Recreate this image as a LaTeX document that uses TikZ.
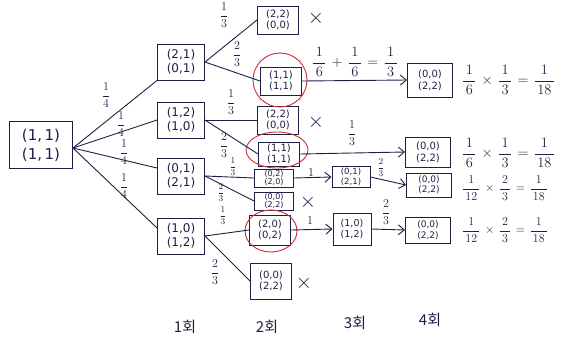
\documentclass[tikz,border=0pt]{standalone}
\usepackage{amsmath}
\usepackage{fontspec}
\newfontfamily\kr{Noto Sans CJK KR}
\newfontfamily\hand{DejaVu Sans}
\usetikzlibrary{arrows.meta}
\definecolor{ink}{RGB}{30,30,70}
\definecolor{redink}{RGB}{205,45,55}
\newcommand{\fr}[2]{\dfrac{#1}{#2}}
\newcommand{\wf}[2]{\dfrac{\,#1\,}{\,#2\,}}
\newcommand{\op}[1]{\mathbin{\hspace{2pt}#1\hspace{2pt}}}
\begin{document}
\begin{tikzpicture}[x=1pt,y=-1pt,
  box/.style={draw=ink, line width=1pt, align=center, text=ink, inner sep=0pt},
  bigbox/.style={box, minimum width=63pt, minimum height=47pt, font=\hand\fontsize{15}{19}\selectfont},
  midbox/.style={box, minimum width=47pt, minimum height=36pt, font=\hand\fontsize{12}{14}\selectfont},
  smbox/.style={box, minimum width=41pt, minimum height=28pt, font=\hand\fontsize{10}{11.5}\selectfont},
  tinybox/.style={box, minimum width=39pt, minimum height=18pt, font=\hand\fontsize{8}{8.5}\selectfont},
  l3box/.style={box, minimum width=38pt, minimum height=26pt, font=\hand\fontsize{9.5}{11}\selectfont},
  endbox/.style={box, minimum width=45pt, minimum height=30pt, font=\hand\fontsize{10}{12}\selectfont},
  edge/.style={draw=ink, line width=0.9pt},
  arr/.style={edge, -{Straight Barb[length=6pt,width=10pt]}},
  lab/.style={text=ink, font=\fontsize{13}{14}\selectfont, inner sep=0pt},
  slab/.style={text=ink, font=\fontsize{9}{10}\selectfont, inner sep=0pt},
  frm/.style={text=ink, font=\fontsize{14}{15}\selectfont, inner sep=0pt},
  xm/.style={text=ink, font=\fontsize{22}{22}\selectfont, inner sep=0pt},
  ring/.style={draw=redink, line width=0.9pt},
  kor/.style={text=ink, font=\kr\fontsize{15}{17}\selectfont, inner sep=0pt}]
\useasboundingbox (0,0) rectangle (576,357);

% nodes
\node[bigbox] (root) at (41,145) {(1,\,1)\\(1,\,1)};
\node[midbox] (a) at (181,62) {(2,1)\\(0,1)};
\node[midbox] (b) at (181,120) {(1,2)\\(1,0)};
\node[midbox] (c) at (181,176) {(0,1)\\(2,1)};
\node[midbox] (d) at (181,236) {(1,0)\\(1,2)};

\node[smbox] (a1) at (278,20) {(2,2)\\(0,0)};
\node[smbox] (a2) at (281,81) {(1,1)\\(1,1)};
\node[smbox] (b1) at (278,120) {(2,2)\\(0,0)};
\node[smbox, minimum height=24pt] (b2) at (279,154) {(1,1)\\(1,1)};
\node[tinybox] (c1) at (274,178) {(0,2)\\(2,0)};
\node[tinybox] (c2) at (274,201) {(0,0)\\(2,2)};
\node[smbox, minimum height=30pt] (d1) at (270,230) {(2,0)\\(0,2)};
\node[smbox, minimum height=36pt] (d2) at (271,281) {(0,0)\\(2,2)};

\node[l3box, minimum height=21pt, font=\hand\fontsize{8.5}{9.5}\selectfont] (c3) at (351,177) {(0,1)\\(2,1)};
\node[l3box, minimum height=32pt] (d3) at (352,229) {(1,0)\\(1,2)};

\node[endbox, minimum height=34pt] (a4) at (430,80) {(0,0)\\(2,2)};
\node[endbox] (b4) at (428,152) {(0,0)\\(2,2)};
\node[endbox, minimum height=24pt, font=\hand\fontsize{9}{10}\selectfont] (c4) at (429,185) {(0,0)\\(2,2)};
\node[endbox, minimum height=26pt, font=\hand\fontsize{9}{10.5}\selectfont] (d4) at (428,230) {(0,0)\\(2,2)};

% red rings
\draw[ring] (280,80) ellipse [x radius=27pt, y radius=27pt];
\draw[ring] (277,150) ellipse [x radius=31pt, y radius=18pt];
\draw[ring] (271,231) ellipse [x radius=26pt, y radius=21pt];

% edges from root
\coordinate (r0) at ([yshift=-3pt]root.east);
\draw[edge] (r0) -- (a.south west);
\draw[edge] (r0) -- (b.west);
\draw[edge] (r0) -- ([yshift=8pt]c.west);
\draw[edge] (r0) -- ([yshift=8pt]d.west);

% level 1 -> 2
\draw[edge] (a.east) -- (a1.west);
\draw[edge] (a.east) -- (a2.west);
\draw[edge] (b.east) -- (b1.west);
\draw[edge] (b.east) -- (b2.west);
\draw[edge] (c.east) -- (c1.west);
\draw[edge] (c.east) -- (c2.west);
\draw[edge] (d.east) -- (d1.west);
\draw[edge] (d.east) -- (d2.west);

% arrows
\draw[arr] (a2.east) -- (a4.west);
\draw[arr] (b2.east) -- (b4.west);
\draw[arr] (c1.east) -- (c3.west);
\draw[arr] (c3.east) -- (c4.west);
\draw[arr] (d1.east) -- (d3.west);
\draw[arr] (d3.east) -- (d4.west);

% X marks
\node[xm] (xa) at (316,18) {$\times$};
\node[xm] (xb) at (316,122) {$\times$};
\node[xm] (xc) at (308,202) {$\times$};
\node[xm] (xd) at (304,283) {$\times$};

% edge labels
\node[lab] (l1) at (106,95) {$\fr{1}{4}$};
\node[lab] (l2) at (121,124) {$\fr{1}{4}$};
\node[lab] (l3) at (124,152) {$\fr{1}{4}$};
\node[lab] (l4) at (124,186) {$\fr{1}{4}$};
\node[lab] (la1) at (224,15) {$\fr{1}{3}$};
\node[lab] (la2) at (237,54) {$\fr{2}{3}$};
\node[lab] (lb1) at (231,102) {$\fr{1}{3}$};
\node[lab] (lb2) at (224,145) {$\fr{2}{3}$};
\node[slab] (lc1) at (233,167) {$\fr{1}{3}$};
\node[slab] (lc2) at (221,193) {$\fr{2}{3}$};
\node[slab] (ld1) at (223,216) {$\fr{1}{3}$};
\node[lab] (ld2) at (215,272) {$\fr{2}{3}$};

\node[frm] (fa) at (355,62) {$\wf{1}{6}\op{+}\wf{1}{6}\op{=}\wf{1}{3}$};
\node[lab] (lb) at (352,133) {$\fr{1}{3}$};
\node[lab] (lc) at (311,173) {$1$};
\node[slab] (lc3) at (381,168) {$\fr{2}{3}$};
\node[lab] (ld) at (310,221) {$1$};
\node[lab] (ld3) at (386,212) {$\fr{2}{3}$};

% results
\node[frm, anchor=west, font=\fontsize{15}{16}\selectfont] (ra) at (462,80) {$\wf{1}{6}\op{\times}\wf{1}{3}\op{=}\wf{1}{18}$};
\node[frm, anchor=west] (rb) at (462,153) {$\wf{1}{6}\op{\times}\wf{1}{3}\op{=}\wf{1}{18}$};
\node[frm, anchor=west, font=\fontsize{12}{13}\selectfont] (rc) at (462,188) {$\wf{1}{12}\op{\times}\wf{2}{3}\op{=}\wf{1}{18}$};
\node[frm, anchor=west, font=\fontsize{13}{14}\selectfont] (rd) at (462,230) {$\wf{1}{12}\op{\times}\wf{2}{3}\op{=}\wf{1}{18}$};

% bottom labels
\node[kor] (k1) at (185,327) {1회};
\node[kor] (k2) at (267,327) {2회};
\node[kor] (k3) at (355,323) {3회};
\node[kor] (k4) at (430,320) {4회};
\end{tikzpicture}
\end{document}
